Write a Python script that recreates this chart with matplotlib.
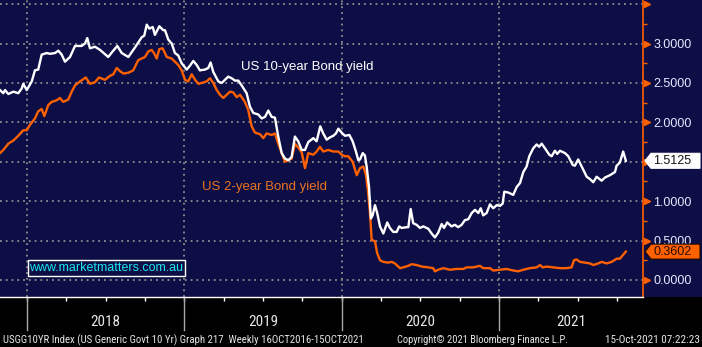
import numpy as np
import matplotlib
matplotlib.use("Agg")
import matplotlib.pyplot as plt
from matplotlib import font_manager
from matplotlib.patches import Polygon, Rectangle
from matplotlib.transforms import blended_transform_factory
from matplotlib.ticker import MultipleLocator, FuncFormatter

# weekly yields, dates as decimal years
us10_dates = [2017.828, 2017.849, 2017.860, 2017.881, 2017.913, 2017.944, 2017.966, 2017.976, 2017.998, 2018.030,
              2018.050, 2018.071, 2018.093, 2018.125, 2018.146, 2018.178, 2018.199, 2018.220, 2018.241, 2018.273,
              2018.305, 2018.347, 2018.368, 2018.383, 2018.400, 2018.432, 2018.464, 2018.516, 2018.548, 2018.574,
              2018.602, 2018.644, 2018.686, 2018.729, 2018.745, 2018.761, 2018.777, 2018.799, 2018.813, 2018.841,
              2018.866, 2018.877, 2018.898, 2018.920, 2018.940, 2018.961, 2018.983, 2019.015, 2019.036, 2019.057,
              2019.078, 2019.099, 2019.131, 2019.152, 2019.167, 2019.184, 2019.216, 2019.237, 2019.258, 2019.279,
              2019.301, 2019.322, 2019.343, 2019.364, 2019.396, 2019.417, 2019.438, 2019.470, 2019.492, 2019.513,
              2019.534, 2019.555, 2019.576, 2019.597, 2019.619, 2019.640, 2019.661, 2019.682, 2019.703, 2019.724,
              2019.746, 2019.767, 2019.788, 2019.820, 2019.841, 2019.864, 2019.883, 2019.905, 2019.926, 2019.947,
              2019.964, 2019.979, 2020.000, 2020.021, 2020.049, 2020.070, 2020.091, 2020.106, 2020.117, 2020.134,
              2020.148, 2020.159, 2020.174, 2020.186, 2020.197, 2020.212, 2020.226, 2020.244, 2020.265, 2020.290,
              2020.307, 2020.328, 2020.350, 2020.366, 2020.382, 2020.413, 2020.424, 2020.439, 2020.455, 2020.477,
              2020.498, 2020.519, 2020.551, 2020.572, 2020.593, 2020.614, 2020.636, 2020.651, 2020.671, 2020.699,
              2020.720, 2020.741, 2020.763, 2020.784, 2020.805, 2020.827, 2020.848, 2020.869, 2020.884, 2020.900,
              2020.922, 2020.943, 2020.964, 2020.986, 2021.007, 2021.024, 2021.034, 2021.059, 2021.091, 2021.113,
              2021.134, 2021.155, 2021.176, 2021.193, 2021.218, 2021.240, 2021.256, 2021.272, 2021.293, 2021.320,
              2021.335, 2021.356, 2021.371, 2021.388, 2021.420, 2021.441, 2021.469, 2021.483, 2021.504, 2021.526,
              2021.558, 2021.579, 2021.600, 2021.621, 2021.653, 2021.674, 2021.706, 2021.738, 2021.748, 2021.769,
              2021.790, 2021.807]
us10_yield = [2.41, 2.37, 2.41, 2.36, 2.39, 2.37, 2.43, 2.49, 2.41, 2.52,
              2.66, 2.67, 2.86, 2.88, 2.87, 2.88, 2.91, 2.86, 2.77, 2.83,
              2.97, 2.97, 3.00, 3.07, 2.94, 2.96, 2.92, 2.83, 2.91, 2.97,
              2.88, 2.83, 2.95, 3.08, 3.10, 3.24, 3.19, 3.21, 3.11, 3.22,
              3.17, 3.17, 3.05, 3.00, 2.88, 2.85, 2.75, 2.67, 2.72, 2.78,
              2.73, 2.66, 2.67, 2.69, 2.76, 2.64, 2.52, 2.50, 2.54, 2.58,
              2.56, 2.53, 2.53, 2.47, 2.37, 2.20, 2.12, 2.10, 2.05, 2.07,
              2.15, 2.07, 2.06, 1.82, 1.61, 1.54, 1.52, 1.56, 1.82, 1.76,
              1.65, 1.65, 1.75, 1.80, 1.76, 1.95, 1.86, 1.78, 1.81, 1.83,
              1.86, 1.92, 1.87, 1.83, 1.84, 1.76, 1.63, 1.52, 1.53, 1.61,
              1.58, 1.44, 1.18, 0.78, 0.82, 0.95, 0.85, 0.68, 0.59, 0.73,
              0.66, 0.61, 0.61, 0.68, 0.66, 0.67, 0.67, 0.90, 0.72, 0.70,
              0.66, 0.68, 0.65, 0.59, 0.54, 0.60, 0.71, 0.66, 0.73, 0.68,
              0.70, 0.67, 0.70, 0.76, 0.77, 0.85, 0.89, 0.85, 0.91, 0.82,
              0.85, 0.96, 0.91, 0.95, 0.94, 0.97, 1.12, 1.11, 1.08, 1.18,
              1.23, 1.37, 1.44, 1.57, 1.67, 1.72, 1.69, 1.73, 1.67, 1.59,
              1.57, 1.64, 1.60, 1.64, 1.61, 1.57, 1.46, 1.45, 1.53, 1.44,
              1.31, 1.28, 1.24, 1.31, 1.26, 1.30, 1.33, 1.37, 1.45, 1.49,
              1.63, 1.5125]

us2_dates = [2017.828, 2017.849, 2017.881, 2017.913, 2017.944, 2017.976, 2017.998, 2018.019, 2018.050, 2018.071,
             2018.093, 2018.110, 2018.135, 2018.157, 2018.188, 2018.209, 2018.230, 2018.262, 2018.284, 2018.305,
             2018.337, 2018.373, 2018.400, 2018.432, 2018.457, 2018.495, 2018.527, 2018.548, 2018.570, 2018.591,
             2018.612, 2018.644, 2018.675, 2018.707, 2018.729, 2018.750, 2018.771, 2018.792, 2018.807, 2018.824,
             2018.841, 2018.862, 2018.888, 2018.920, 2018.940, 2018.961, 2018.983, 2019.004, 2019.025, 2019.047,
             2019.068, 2019.089, 2019.110, 2019.142, 2019.163, 2019.184, 2019.206, 2019.227, 2019.248, 2019.269,
             2019.290, 2019.311, 2019.333, 2019.354, 2019.385, 2019.406, 2019.428, 2019.449, 2019.481, 2019.502,
             2019.523, 2019.555, 2019.576, 2019.597, 2019.619, 2019.640, 2019.661, 2019.682, 2019.703, 2019.724,
             2019.746, 2019.767, 2019.788, 2019.820, 2019.841, 2019.862, 2019.883, 2019.915, 2019.947, 2019.979,
             2020.000, 2020.021, 2020.042, 2020.070, 2020.096, 2020.117, 2020.138, 2020.155, 2020.169, 2020.180,
             2020.191, 2020.212, 2020.226, 2020.244, 2020.265, 2020.296, 2020.318, 2020.339, 2020.371, 2020.392,
             2020.424, 2020.445, 2020.477, 2020.509, 2020.551, 2020.582, 2020.593, 2020.614, 2020.646, 2020.689,
             2020.731, 2020.773, 2020.795, 2020.837, 2020.879, 2020.900, 2020.943, 2020.964, 2021.007, 2021.049,
             2021.091, 2021.123, 2021.155, 2021.197, 2021.240, 2021.261, 2021.278, 2021.303, 2021.345, 2021.388,
             2021.430, 2021.462, 2021.477, 2021.494, 2021.515, 2021.547, 2021.579, 2021.600, 2021.631, 2021.653,
             2021.685, 2021.717, 2021.748, 2021.769, 2021.807]
us2_yield = [1.61, 1.65, 1.73, 1.77, 1.83, 1.90, 1.90, 1.97, 2.05, 2.14,
             2.17, 2.08, 2.22, 2.26, 2.28, 2.31, 2.26, 2.29, 2.39, 2.47,
             2.52, 2.57, 2.49, 2.51, 2.57, 2.54, 2.59, 2.61, 2.69, 2.65,
             2.62, 2.63, 2.66, 2.79, 2.81, 2.83, 2.90, 2.92, 2.88, 2.81,
             2.93, 2.94, 2.83, 2.81, 2.77, 2.73, 2.66, 2.54, 2.52, 2.61,
             2.54, 2.49, 2.50, 2.52, 2.56, 2.50, 2.41, 2.35, 2.31, 2.35,
             2.39, 2.38, 2.32, 2.35, 2.26, 2.16, 1.95, 1.87, 1.85, 1.80,
             1.86, 1.84, 1.86, 1.73, 1.61, 1.50, 1.52, 1.54, 1.73, 1.68,
             1.62, 1.42, 1.61, 1.59, 1.63, 1.69, 1.63, 1.65, 1.63, 1.63,
             1.59, 1.57, 1.57, 1.50, 1.33, 1.42, 1.44, 1.33, 1.10, 0.85,
             0.51, 0.49, 0.34, 0.25, 0.23, 0.22, 0.23, 0.21, 0.15, 0.16,
             0.18, 0.20, 0.19, 0.17, 0.16, 0.15, 0.11, 0.13, 0.15, 0.13,
             0.14, 0.14, 0.16, 0.16, 0.18, 0.15, 0.15, 0.12, 0.13, 0.14,
             0.12, 0.11, 0.13, 0.15, 0.16, 0.19, 0.16, 0.17, 0.16, 0.15,
             0.15, 0.16, 0.25, 0.26, 0.23, 0.22, 0.21, 0.19, 0.21, 0.23,
             0.21, 0.23, 0.27, 0.27, 0.3602]

years = [2018, 2019, 2020, 2021]
footer = ["USGG10YR Index (US Generic Govt 10 Yr) Graph 217  Weekly 16OCT2016-15OCT2021",
          "Copyright\u00a9 2021 Bloomberg Finance L.P.",
          "15-Oct-2021 07:22:23"]

NAVY = "#0e0e46"
ORANGE = "#ff6000"
GRID = "#8e8e8e"
SANS = ["Liberation Sans", "DejaVu Sans"]

# Bloomberg uses a narrow font; pick one if there is one installed
installed = {f.name for f in font_manager.fontManager.ttflist}
narrow_fam = ["DejaVu Sans"]
narrow_stretch = "normal"
for cand in ["Liberation Sans Narrow", "Roboto Condensed", "Open Sans Condensed", "DejaVu Sans Condensed"]:
    if cand in installed:
        narrow_fam = [cand, "DejaVu Sans"]
        break
else:
    if any(f.name == "DejaVu Sans" and f.stretch == "condensed" for f in font_manager.fontManager.ttflist):
        narrow_stretch = "condensed"

W, H = 702, 347
fig = plt.figure(figsize=(W / 100, H / 100), dpi=100, facecolor=NAVY)
ax_w, ax_h = 643, 297
ax = fig.add_axes([0, (H - ax_h) / H, ax_w / W, ax_h / H])
ax.set_facecolor(NAVY)
# black strip with the time axis under the plot
fig.patches.append(Rectangle((0, 0), 1, (H - ax_h) / H, transform=fig.transFigure,
                             facecolor="black", edgecolor="none", zorder=-1))

ax.plot(us2_dates, us2_yield, color=ORANGE, lw=1.7, zorder=3)
ax.plot(us10_dates, us10_yield, color="white", lw=1.7, zorder=4)

xmin, xmax = 2017.828, 2021.916
ymin, ymax = -0.216, 3.553
ax.set_xlim(xmin, xmax)
ax.set_ylim(ymin, ymax)

for s in ["left", "top"]:
    ax.spines[s].set_visible(False)
ax.spines["right"].set_color(ORANGE)
ax.spines["right"].set_linewidth(1.2)
ax.spines["bottom"].set_color("white")
ax.spines["bottom"].set_linewidth(1.0)

last10 = us10_yield[-1]


def ylab(v, pos):
    # 3.5 is cut off at the top and 1.5 sits under the 10yr tag
    if v > 3.2 or abs(v - last10) < 0.05:
        return ""
    return "%.4f" % v


# y axis on the right
ax.yaxis.tick_right()
ax.yaxis.set_major_locator(MultipleLocator(0.5))
ax.yaxis.set_minor_locator(MultipleLocator(0.25))
ax.yaxis.set_major_formatter(FuncFormatter(ylab))
ax.tick_params(axis="y", which="major", length=0, pad=7.5, labelsize=9, labelcolor="#e2eaff")
ax.tick_params(axis="y", which="minor", length=3, width=1, color=ORANGE)
for lab in ax.get_yticklabels():
    lab.set_family(SANS)
ax.yaxis.grid(True, which="major", color=GRID, ls=(0, (1, 2.2)), lw=1.3)

# little orange flags on the major y ticks
ytr = blended_transform_factory(ax.transAxes, ax.transData)
yt = list(np.arange(0, 3.51, 0.5))
ax.plot([1.0 + 4 / ax_w] * len(yt), yt, ls="none", marker=">", ms=5, color=ORANGE,
        transform=ytr, clip_on=False, zorder=5)

# quarter ticks on the time axis, year boundaries as gridlines
xtr = blended_transform_factory(ax.transData, ax.transAxes)
ax.xaxis.set_major_locator(MultipleLocator(0.25))
ax.tick_params(axis="x", which="major", length=3, width=1, color="white", labelbottom=False)
year_texts = []
for yr in years:
    ax.axvline(yr, color=GRID, ls=(0, (1, 2.2)), lw=1.3, zorder=1)
    ax.axvline(yr, ymin=-33 / ax_h, ymax=0, color="#a8a8a8", lw=1.0, clip_on=False)
    mid = (yr + min(yr + 1, xmax)) / 2
    year_texts.append(ax.text(mid, -25.5 / ax_h, str(yr), transform=xtr, ha="center", va="center",
                              fontsize=11, color="#e6e6e6", family=narrow_fam, fontstretch=narrow_stretch))

# series labels
ax.text(2019.360, 2.70, "US 10-year Bond yield", color="white", fontsize=9.5, family=SANS,
        ha="left", va="center", zorder=6)
ax.text(2019.112, 1.18, "US 2-year Bond yield", color="#e8731f", fontsize=9.5, family=SANS,
        ha="left", va="center", zorder=6)

ax.text(106.5 / ax_w, (ax_h - 268) / ax_h, "www.marketmatters.com.au", transform=ax.transAxes,
        color="#19e6f0", fontsize=9, family=SANS, ha="center", va="center", zorder=6,
        bbox=dict(boxstyle="square,pad=0.15", facecolor=NAVY, edgecolor="white", lw=1.0))

# last value tags on the axis
px_per_unit = ax_h / (ymax - ymin)


def value_tag(value, face, txt_color, edge):
    half = 7.5 / px_per_unit
    tip = 1.0 + 2 / ax_w
    shoulder = 1.0 + 8 / ax_w
    right = (W - 2) / ax_w
    verts = [(tip, value), (shoulder, value + half), (right, value + half),
             (right, value - half), (shoulder, value - half)]
    ax.add_patch(Polygon(verts, closed=True, transform=ytr, facecolor=face, edgecolor=edge,
                         lw=0.8, clip_on=False, zorder=7))
    ax.text(1.0 + 10 / ax_w, value, "%.4f" % value, transform=ytr, ha="left", va="center",
            fontsize=9, color=txt_color, family=SANS, clip_on=False, zorder=8)


value_tag(last10, "white", "#111111", "white")
value_tag(us2_yield[-1], ORANGE, "#2a0e00", "#1a0800")

# footer
kw = dict(va="center", fontsize=8, color="#e6e6e6", family=narrow_fam, fontstretch=narrow_stretch)
foot = [fig.text(3 / W, 7 / H, footer[0], ha="left", **kw),
        fig.text(397 / W, 7 / H, footer[1], ha="left", **kw),
        fig.text(700 / W, 7 / H, footer[2], ha="right", **kw)]

# squeeze the narrow-font texts to the widths they take in the Bloomberg picture
renderer = fig.canvas.get_renderer()
for t, target in zip(foot, [362, 173, 102]):
    w = t.get_window_extent(renderer).width
    if w > target:
        t.set_fontsize(t.get_fontsize() * target / w)
for t in year_texts:
    w = t.get_window_extent(renderer).width
    if w > 30:
        t.set_fontsize(t.get_fontsize() * 30 / w)

fig.savefig("out.png", dpi=100, facecolor=fig.get_facecolor())
